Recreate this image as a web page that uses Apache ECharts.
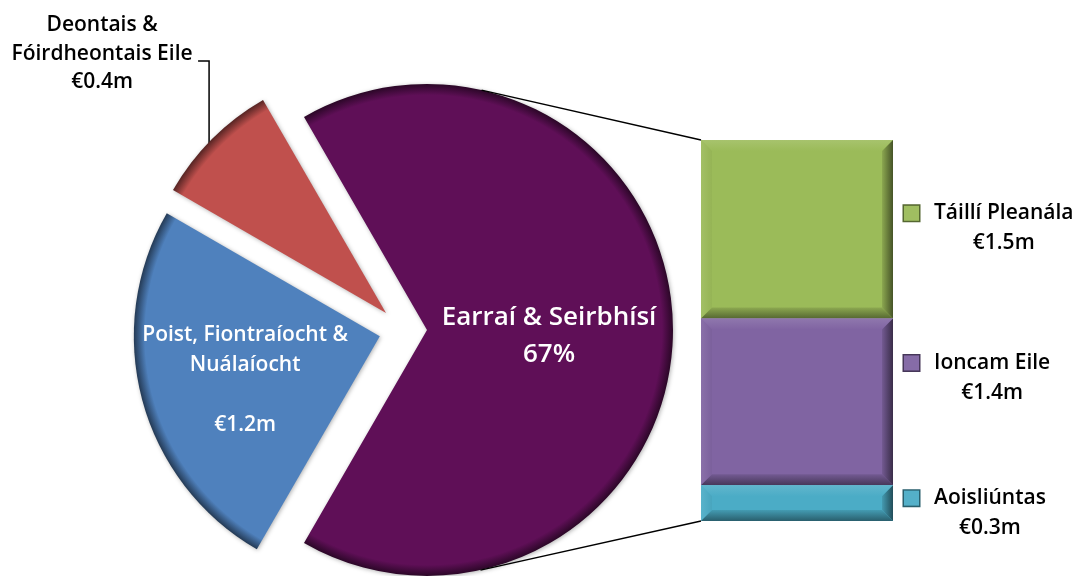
<!DOCTYPE html>
<html><head><meta charset="utf-8">
<script src="https://cdn.jsdelivr.net/npm/echarts@6/dist/echarts.min.js"></script>
<style>html,body{margin:0;padding:0;background:#fff}#c{width:1079px;height:576px}</style>
</head><body><div id="c"></div>
<script>
// ---- data ----
const pieLabelNames = ['Earraí & Seirbhísí', 'Poist, Fiontraíocht &\nNuálaíocht', 'Deontais &\nFóirdheontais Eile'];
const pieOtherValues = [1.2, 0.4];           // blue, red slices (€m)
const barNames = ['Táillí Pleanála', 'Ioncam Eile', 'Aoisliúntas'];
const barValues = [1.5, 1.4, 0.3];           // breakdown of the big slice (€m)

// ---- styles / layout ----
const FONT = 'Open Sans';
const WEIGHT = 600;
const pieColors = ['#5F0F57', '#4F81BD', '#C0504D'];
const barColors = ['#9BBB59', '#8064A2', '#4BACC6'];
const CX = 403, CY = 330, R = 246, OFF = 24, START = 120;
const barLabelNudge = [-1, -24, 10];

function mix(hex, target, t) {
  const h = hex.replace('#', '');
  const c = [0, 2, 4].map(i => parseInt(h.substr(i, 2), 16));
  const r = c.map((v, i) => Math.round(v + (target[i] - v) * t));
  return 'rgb(' + r.join(',') + ')';
}
const darker = (c, t) => mix(c, [0, 0, 0], t);
const lighter = (c, t) => mix(c, [255, 255, 255], t);
const fmt = v => '€' + v.toFixed(1) + 'm';

const bigValue = barValues.reduce((a, b) => a + b, 0);
const pieValues = [bigValue].concat(pieOtherValues);
const pieTotal = pieValues.reduce((a, b) => a + b, 0);

const mids = [];
(function () { let a = START; pieValues.forEach(v => { const s = v / pieTotal * 360; mids.push(a - s / 2); a -= s; }); })();
const centers = mids.map(m => [CX + OFF * Math.cos(m * Math.PI / 180), CY - OFF * Math.sin(m * Math.PI / 180)]);

const labelStyles = [
  { position: 'inside', color: '#fff', fontSize: 26, lineHeight: 37 },
  { position: 'inside', color: '#fff', fontSize: 21, lineHeight: 30 },
  { position: 'outside', color: '#000', fontSize: 21, lineHeight: 28.5 }
];

function pieSeries(k) {
  const c = centers[k];
  return {
    type: 'pie', center: c, radius: R, startAngle: START, clockwise: true,
    avoidLabelOverlap: false, silent: true, animation: false,
    emphasis: { disabled: true },
    label: {
      fontFamily: FONT, fontWeight: WEIGHT,
      formatter: p => {
        const i = p.dataIndex;
        if (i === 0) return pieLabelNames[0] + '\n' + Math.round(p.value / pieTotal * 100) + '%';
        if (i === 1) return pieLabelNames[1] + '\n\n' + fmt(p.value);
        return pieLabelNames[2] + '\n' + fmt(p.value);
      }
    },
    labelLayout: p => {
      if (p.dataIndex === 0) return { dx: -2, dy: 3 };
      if (p.dataIndex === 1) return { dx: -6.5, dy: 5.5 };
      const m = mids[2] * Math.PI / 180;
      const ax = c[0] + R * Math.cos(m), ay = c[1] - R * Math.sin(m);
      const lx = ax - 110, ly = ay - 85.5;
      return {
        x: lx, y: ly, align: 'center', verticalAlign: 'middle',
        labelLinePoints: [[ax - 3, ay + 4], [ax - 3, ly + 7.5], [lx + 96, ly + 7.5]]
      };
    },
    data: pieValues.map((v, i) => {
      if (i !== k) return {
        value: v, itemStyle: { color: 'rgba(0,0,0,0)', borderWidth: 0 },
        label: { show: false }, labelLine: { show: false }
      };
      return {
        value: v,
        itemStyle: {
          color: { type: 'radial', x: c[0], y: c[1], r: R, global: true,
            colorStops: [{ offset: 0, color: pieColors[i] }, { offset: 0.955, color: pieColors[i] },
                         { offset: 1, color: darker(pieColors[i], 0.55) }] },
          shadowBlur: 4, shadowColor: 'rgba(0,0,0,0.3)', shadowOffsetX: 1, shadowOffsetY: 1
        },
        label: Object.assign({ show: true }, labelStyles[i]),
        labelLine: { show: i === 2, lineStyle: { color: '#000', width: 1.5 } }
      };
    })
  };
}

const segs = [];
(function () { let s = bigValue; barValues.forEach((v, i) => { segs.push([0, s - v, s, i]); s -= v; }); })();

let barRect = null;
function renderBar(params, api) {
  const i = api.value(3);
  const pt = api.coord([0, api.value(2)]);
  const pb = api.coord([0, api.value(1)]);
  const w = api.size([1, 0])[0];
  const x0 = pt[0] - w / 2, x1 = pt[0] + w / 2, y0 = pt[1], y1 = pb[1];
  if (!barRect) barRect = { x0, x1, top: y0, bottom: y1 };
  barRect.top = Math.min(barRect.top, y0); barRect.bottom = Math.max(barRect.bottom, y1);
  const b = Math.min(11, (y1 - y0) / 2 - 1);
  const c = barColors[i];
  const dk = darker(c, 0.55);
  const lin = (x2, y2, c1, c2) => ({ type: 'linear', x: 0, y: 0, x2, y2, colorStops: [{ offset: 0, color: c1 }, { offset: 1, color: c2 }] });
  return {
    type: 'group',
    children: [
      { type: 'rect', shape: { x: x0, y: y0, width: x1 - x0, height: y1 - y0 }, style: { fill: c } },
      { type: 'polygon', shape: { points: [[x0, y0], [x1, y0], [x1 - b, y0 + b], [x0 + b, y0 + b]] }, style: { fill: lin(0, 1, lighter(c, 0.12), c) } },
      { type: 'polygon', shape: { points: [[x0, y0], [x0 + b, y0 + b], [x0 + b, y1 - b], [x0, y1]] }, style: { fill: lin(1, 0, lighter(c, 0.08), darker(c, 0.04)) } },
      { type: 'polygon', shape: { points: [[x1, y0], [x1, y1], [x1 - b, y1 - b], [x1 - b, y0 + b]] }, style: { fill: lin(1, 0, darker(c, 0.1), dk) } },
      { type: 'polygon', shape: { points: [[x0, y1], [x0 + b, y1 - b], [x1 - b, y1 - b], [x1, y1]] }, style: { fill: lin(0, 1, darker(c, 0.1), darker(c, 0.45)) } },
      {
        type: 'text', x: x1 + 11, y: (y0 + y1) / 2 + barLabelNudge[i],
        style: {
          text: '{ic|}{g|}{t|' + barNames[i] + '}\n{p|}{t|' + fmt(barValues[i]) + '}',
          align: 'left', verticalAlign: 'middle',
          rich: {
            ic: { width: 15, height: 15, lineHeight: 30, align: 'center', backgroundColor: lighter(c, 0.05), borderColor: darker(c, 0.45), borderWidth: 1.5 },
            g: { width: 15, lineHeight: 30, align: 'center' },
            p: { width: 30, lineHeight: 30, align: 'center' },
            t: { fontSize: 21, fontFamily: FONT, fontWeight: WEIGHT, fill: '#000', lineHeight: 30, align: 'center' }
          }
        }
      }
    ]
  };
}

const chart = echarts.init(document.getElementById('c'), null, { renderer: 'canvas' });
chart.setOption({
  animation: false,
  backgroundColor: '#fff',
  grid: { left: 701, top: 140, width: 192, height: 381 },
  xAxis: { type: 'category', data: [''], show: false },
  yAxis: { type: 'value', min: 0, max: bigValue, show: false },
  series: [pieSeries(0), pieSeries(1), pieSeries(2),
    { type: 'custom', renderItem: renderBar, data: segs, silent: true, encode: { x: 0, y: [1, 2] } }]
});

function tangent(q, sign) {
  const c = centers[0];
  const dx = q[0] - c[0], dy = q[1] - c[1];
  const d = Math.sqrt(dx * dx + dy * dy);
  const th = Math.atan2(dy, dx) + sign * Math.acos(R / d);
  return [c[0] + R * Math.cos(th), c[1] + R * Math.sin(th)];
}
if (barRect) {
  const qt = [barRect.x0, barRect.top], qb = [barRect.x0, barRect.bottom];
  const tt = tangent(qt, -1), tb = tangent(qb, 1);
  chart.setOption({
    graphic: [
      { type: 'line', shape: { x1: tt[0], y1: tt[1], x2: qt[0], y2: qt[1] }, style: { stroke: '#000', lineWidth: 1.5 }, z: 10 },
      { type: 'line', shape: { x1: tb[0], y1: tb[1], x2: qb[0], y2: qb[1] }, style: { stroke: '#000', lineWidth: 1.5 }, z: 10 }
    ]
  });
}
</script></body></html>
